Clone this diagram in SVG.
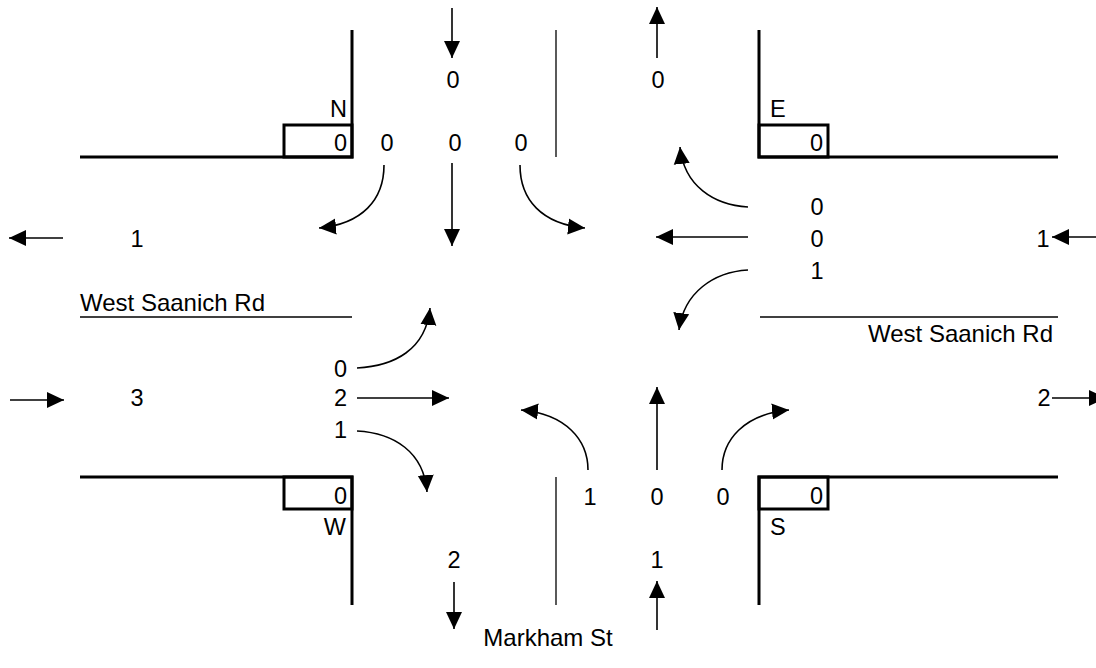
<svg xmlns="http://www.w3.org/2000/svg" width="1096" height="668" viewBox="0 0 1096 668">
<style>
text{font-family:"Liberation Sans",Arial,sans-serif;font-size:23.5px;fill:#000}
.road{font-size:24px}
.m{text-anchor:middle}.e{text-anchor:end}
.curb{fill:none;stroke:#000;stroke-width:3}
.thin{fill:none;stroke:#000;stroke-width:1.3}
.arr{fill:none;stroke:#000;stroke-width:1.6;marker-end:url(#ah)}
</style>
<defs>
<marker id="ah" markerUnits="userSpaceOnUse" markerWidth="18" markerHeight="18" viewBox="0 0 18 18" refX="17" refY="9" orient="auto">
<path d="M0,1 L17,9 L0,17 z" fill="#000"/>
</marker>
</defs>
<rect width="1096" height="668" fill="#fff"/>
<g id="corner-N">
<polyline class="curb" points="352,30 352,157 80,157"/>
<rect class="curb" x="284" y="125" width="68" height="32"/>
<text class="e" x="347" y="117">N</text>
<text class="e" x="347" y="151">0</text>
</g>
<g id="corner-E">
<polyline class="curb" points="759,30 759,157 1058,157"/>
<rect class="curb" x="759" y="125" width="69" height="32"/>
<text x="770" y="117">E</text>
<text class="e" x="823" y="151">0</text>
</g>
<g id="corner-W">
<polyline class="curb" points="80,477 352,477 352,605"/>
<rect class="curb" x="284" y="477" width="68" height="32"/>
<text class="e" x="347" y="504">0</text>
<text class="e" x="346" y="535">W</text>
</g>
<g id="corner-S">
<polyline class="curb" points="1058,477 759,477 759,605"/>
<rect class="curb" x="759" y="477" width="69" height="32"/>
<text class="e" x="823" y="504">0</text>
<text x="770" y="535">S</text>
</g>
<g id="medians">
<line class="thin" x1="556" y1="30" x2="556" y2="157"/>
<line class="thin" x1="556" y1="477" x2="556" y2="605"/>
<line class="thin" x1="80" y1="317" x2="352" y2="317"/>
<line class="thin" x1="760" y1="317" x2="1058" y2="317"/>
</g>
<g id="labels">
<text class="road" x="80" y="311">West Saanich Rd</text>
<text class="road e" x="1053" y="342">West Saanich Rd</text>
<text class="road m" x="548" y="646">Markham St</text>
</g>
<g id="north-counts">
<text class="m" x="453" y="88">0</text>
<text class="m" x="658" y="88">0</text>
<text class="m" x="387" y="151">0</text>
<text class="m" x="455" y="151">0</text>
<text class="m" x="521" y="151">0</text>
</g>
<g id="east-counts">
<text class="m" x="817" y="215">0</text>
<text class="m" x="817" y="247">0</text>
<text class="m" x="817" y="279">1</text>
<text class="m" x="1043" y="247">1</text>
<text class="m" x="1044" y="406">2</text>
</g>
<g id="west-counts">
<text class="m" x="137" y="247">1</text>
<text class="m" x="137" y="406">3</text>
<text class="e" x="347" y="377">0</text>
<text class="e" x="347" y="406">2</text>
<text class="e" x="347" y="438">1</text>
</g>
<g id="south-counts">
<text class="m" x="590" y="505">1</text>
<text class="m" x="657" y="505">0</text>
<text class="m" x="723" y="505">0</text>
<text class="m" x="454" y="568">2</text>
<text class="m" x="657" y="568">1</text>
</g>
<g id="connectors">
<path class="arr" d="M452,8 L452,58"/>
<path class="arr" d="M657,58 L657,7"/>
<path class="arr" d="M384,165 C384,200 362,224 319,228"/>
<path class="arr" d="M452,163 L452,246"/>
<path class="arr" d="M520,165 C520,200 542,224 585,228"/>
<path class="arr" d="M748,207 C714,205 684,186 680,147"/>
<path class="arr" d="M748,237 L656,237"/>
<path class="arr" d="M748,270 C714,272 684,292 679,330"/>
<path class="arr" d="M357,368 C394,366 426,350 430,308"/>
<path class="arr" d="M357,398 L449,398"/>
<path class="arr" d="M357,431 C394,433 424,452 427,492"/>
<path class="arr" d="M588,470 C588,440 566,414 521,410"/>
<path class="arr" d="M657,470 L657,387"/>
<path class="arr" d="M722,470 C722,440 744,414 789,410"/>
<path class="arr" d="M657,630 L657,581"/>
<path class="arr" d="M454,582 L454,629"/>
<path class="arr" d="M63,238 L9,238"/>
<path class="arr" d="M10,400 L64,400"/>
<path class="arr" d="M1100,237 L1052,237"/>
<path class="arr" d="M1052,398 L1106,398"/>
</g>
</svg>
